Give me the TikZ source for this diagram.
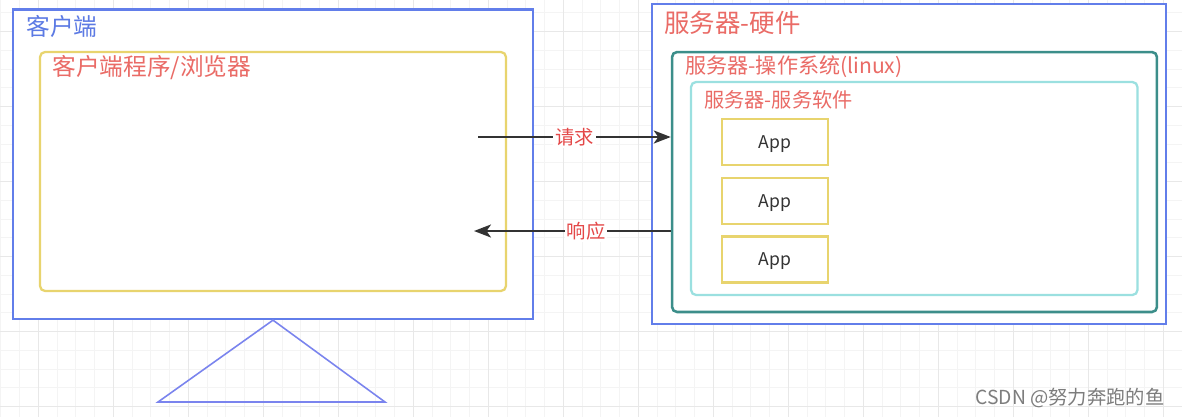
\documentclass[tikz,border=0pt]{standalone}
\usepackage{fontspec}
\setmainfont{Noto Sans CJK SC}
\usetikzlibrary{arrows.meta}
\pgfdeclarelayer{bg}
\pgfsetlayers{bg,main}
\definecolor{boxblue}{RGB}{98,126,234}
\definecolor{titleblue}{RGB}{92,122,228}
\definecolor{appyellow}{RGB}{232,212,110}
\definecolor{titlered}{RGB}{234,107,102}
\definecolor{flowred}{RGB}{228,72,72}
\definecolor{osteal}{RGB}{60,142,138}
\definecolor{svccyan}{RGB}{155,224,224}
\definecolor{standblue}{RGB}{122,132,238}
\definecolor{flowgray}{RGB}{51,51,51}
\definecolor{darktext}{RGB}{51,51,51}
\definecolor{markgray}{RGB}{125,125,125}
\tikzset{empty/.style={draw=none, fill=none, minimum size=0mm, inner sep=0mm}}
\tikzset{frame/.style={draw=boxblue, line width=1.35pt, fill=white, inner sep=0mm}}
\tikzset{softbox/.style={rounded corners=1mm, line width=1.3pt, fill=white, inner sep=0mm}}
\tikzset{title/.style={anchor=west, inner sep=0mm}}
\tikzset{appbox/.style={draw=appyellow, line width=1.3pt, fill=white, minimum width=2.12cm, minimum height=0.92cm, text depth=0pt, text=darktext, font=\fontsize{10pt}{12pt}\selectfont}}
\tikzset{flow/.style={draw=flowgray, line width=1.4pt, -{Stealth[length=3.4mm, width=2.6mm, inset=0.9mm]}}}
\tikzset{flowlabel/.style={fill=white, text=flowred, inner sep=0.4mm, font=\fontsize{11pt}{13pt}\selectfont}}
\tikzset{gridminor/.style={draw={rgb,255:red,244;green,244;blue,244}, line width=0.5pt}}
\tikzset{gridmajor/.style={draw={rgb,255:red,232;green,232;blue,232}, line width=0.6pt}}

\begin{document}
\begin{tikzpicture}[x=0.02cm, y=-0.02cm]
    \useasboundingbox (0,0) rectangle (1182,417);

    \begin{pgfonlayer}{bg}
        \fill[white] (0,0) rectangle (1182,417);
        \foreach \gx in {0.8,19.55,...,1182} \draw[gridminor] (\gx,0) -- (\gx,417);
        \foreach \gy in {12.9,31.65,...,417} \draw[gridminor] (0,\gy) -- (1182,\gy);
        \foreach \gx in {38.3,113.3,...,1182} \draw[gridmajor] (\gx,0) -- (\gx,417);
        \foreach \gy in {31.65,106.65,...,417} \draw[gridmajor] (0,\gy) -- (1182,\gy);
    \end{pgfonlayer}

    % client side
    \node (client) at (273,164.25) [frame, minimum width=10.4cm, minimum height=6.19cm] {};
    \node (browser) at (273,171.5) [softbox, draw=appyellow, minimum width=9.32cm, minimum height=4.78cm] {};
    \node (clienttxt) at (26,26.5) [title, text=titleblue, font=\fontsize{13.5pt}{16pt}\selectfont] {客户端};
    \node (browsertxt) at (52,68) [title, text=titlered, font=\fontsize{13.5pt}{16pt}\selectfont] {客户端程序/浏览器};
    \draw[standblue, line width=0.9pt] (client.south) -- (158,402) -- (385,402) -- cycle;

    % server side
    \node (hw) at (909,164) [frame, minimum width=10.28cm, minimum height=6.4cm] {};
    \node (os) at (914.5,182) [softbox, draw=osteal, line width=1.45pt, minimum width=9.7cm, minimum height=5.2cm] {};
    \node (svc) at (914.25,188.5) [softbox, draw=svccyan, minimum width=8.93cm, minimum height=4.26cm] {};
    \node (hwtxt) at (664,22.5) [title, text=titlered, font=\fontsize{14.5pt}{17pt}\selectfont] {服务器-硬件};
    \node (ostxt) at (685,67) [title, text=titlered, font=\fontsize{12pt}{14pt}\selectfont] {服务器-操作系统(linux)};
    \node (svctxt) at (704,100) [title, text=titlered, font=\fontsize{11.5pt}{14pt}\selectfont] {服务器-服务软件};

    \node (app1) at (775,142) [appbox] {App};
    \node (app2) at (775,201) [appbox] {App};
    \node (app3) at (775,259.5) [appbox] {App};

    % request / response
    \coordinate (reqs) at (478,137);
    \coordinate (reqe) at (os.west |- reqs);
    \coordinate (rese) at (474,231);
    \coordinate (ress) at (os.west |- rese);

    \draw (reqs) edge[flow] node[flowlabel] {请求} (reqe);
    \draw (ress) edge[flow] node[flowlabel, pos=0.43] {响应} (rese);

    \node (mark) at (975,398) [title, text=markgray, font=\fontsize{11pt}{13pt}\selectfont] {CSDN @努力奔跑的鱼};
\end{tikzpicture}
\end{document}
